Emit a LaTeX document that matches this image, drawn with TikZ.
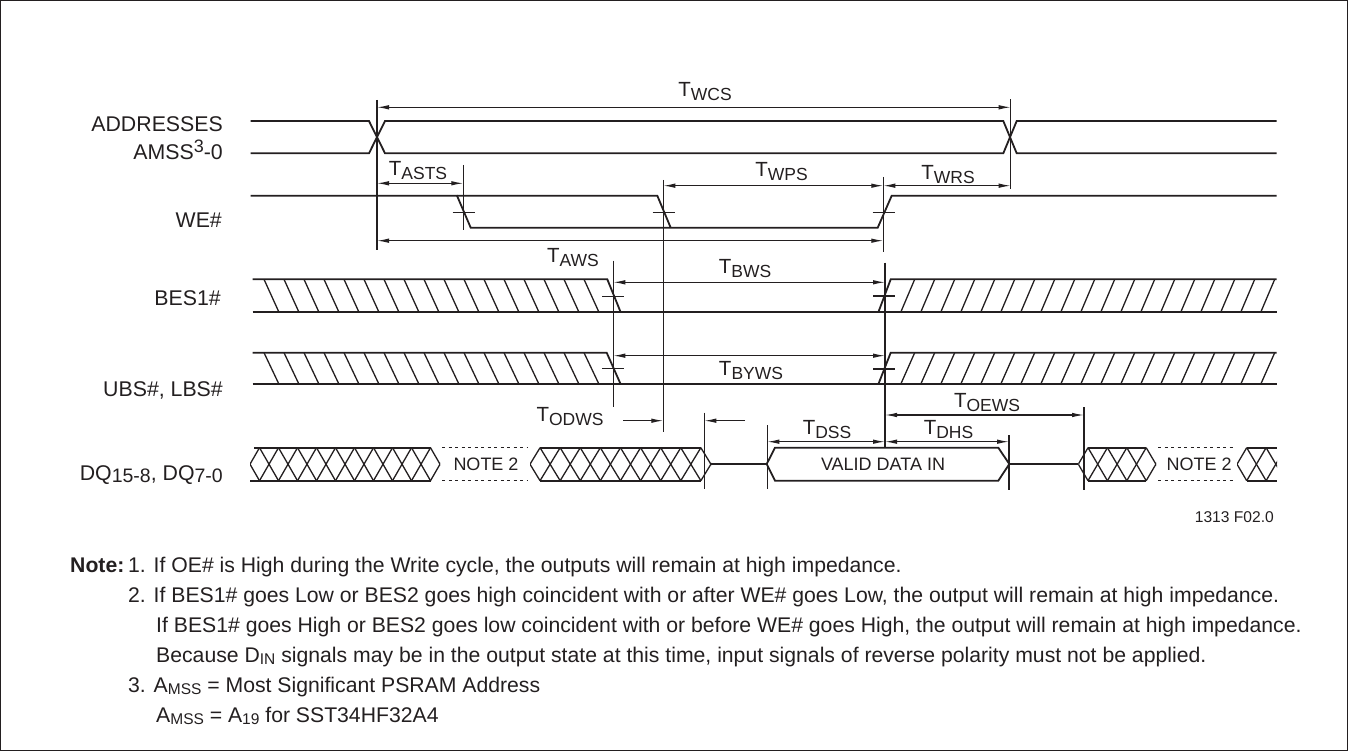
\documentclass[tikz,border=0pt]{standalone}
\usepackage{fontspec}
\setmainfont{Liberation Sans}
\usetikzlibrary{arrows.meta}
\definecolor{ink}{HTML}{231F20}
\newcommand\Tsub[1]{{\fontsize{20.5}{21}\selectfont T}\raisebox{-4pt}{\fontsize{17.5}{18}\selectfont #1}}
\newcommand\nsub[1]{\raisebox{-2.5pt}{\fontsize{15.5}{15}\selectfont #1}}
\tikzset{
 sig/.style={line width=1.8pt, draw=ink, line join=miter},
 refl/.style={line width=1.5pt, draw=ink},
 dim/.style={line width=1.1pt, draw=ink, {Latex[length=12pt,width=4.5pt]}-{Latex[length=12pt,width=4.5pt]}},
 dimr/.style={line width=1.1pt, draw=ink, -{Latex[length=12pt,width=4.5pt]}},
 hatch/.style={line width=1.3pt, draw=ink},
 tickm/.style={line width=1.5pt, draw=ink},
 dashb/.style={line width=1.3pt, draw=ink, dash pattern=on 3pt off 3.5pt},
 lbl/.style={font=\fontsize{21.3}{24}\selectfont, text=ink, inner sep=0pt, anchor=base east},
 tl/.style={text=ink, inner sep=0pt},
 notet/.style={font=\fontsize{21.2}{24}\selectfont, text=ink, inner sep=0pt, anchor=base west},
 boxt/.style={font=\fontsize{18}{20}\selectfont, text=ink, inner sep=0pt},
}
\begin{document}
\begin{tikzpicture}[x=1pt,y=-1pt]
\useasboundingbox (0,0) rectangle (1348,751);
\draw[line width=1pt,ink] (0.5,0.5) rectangle (1347.5,750.5);

% ---------- signal names ----------
\node[lbl] (laddr) at (223,132) {ADDRESSES};
\node[lbl] (lamss) at (223,160) {AMSS\raisebox{7pt}{\fontsize{18}{18}\selectfont 3}-0};
\node[lbl] (lwe) at (222,228) {WE\#};
\node[lbl] (lbes) at (221,305) {BES1\#};
\node[lbl] (lubs) at (223,396) {UBS\#, LBS\#};
\node[lbl] (ldq) at (223,480) {DQ\raisebox{-2.5pt}{\fontsize{19.5}{20}\selectfont 15-8}, DQ\raisebox{-2.5pt}{\fontsize{19.5}{20}\selectfont 7-0}};

% ---------- ADDRESSES ----------
\draw[sig] (250.7,121)--(369,121)--(385,153.3)--(1003.3,153.3)--(1016.7,121)--(1276.7,121);
\draw[sig] (250.7,153.3)--(369,153.3)--(385,121)--(1003.3,121)--(1016.7,153.3)--(1276.7,153.3);

% ---------- WE# ----------
\draw[sig] (250.7,195.7)--(457,195.7)--(470.7,227.7)--(877.7,227.7)--(891.7,195.7)--(1276.7,195.7);
\draw[sig] (457,195.7)--(657.3,195.7)--(670.7,227.7);
\draw[tickm] (452.7,212.7)--(475,212.7);
\draw[tickm] (652.7,212.7)--(675,212.7);
\draw[tickm] (872.7,212.7)--(895,212.7);

% ---------- BES1# ----------
\draw[sig] (252.7,279.3)--(607.3,279.3)--(620.7,312.3);
\draw[sig] (252.7,312.3)--(1276.7,312.3);
\draw[sig] (878.3,312.3)--(890.7,279.3)--(1276.7,279.3);
\foreach \k in {0,...,16} \draw[hatch] ({264+20*\k},279.3) -- ++(15,33);
\foreach \k in {0,...,18} \draw[hatch] ({900.7+20*\k},312.3) -- ++(14,-33);
\draw[tickm] (602,296.7)--(624,296.7);
\draw[tickm] (873,296)--(895,296);

% ---------- UBS#, LBS# ----------
\draw[sig] (252.7,352.7)--(606.7,352.7)--(620.7,384.3);
\draw[sig] (252.7,384.3)--(1276.7,384.3);
\draw[sig] (878.3,384.3)--(890.7,352.7)--(1276.7,352.7);
\foreach \k in {0,...,16} \draw[hatch] ({264+20*\k},352.7) -- ++(15,31.6);
\foreach \k in {0,...,18} \draw[hatch] ({900.7+20*\k},384.3) -- ++(14,-31.6);
\draw[tickm] (602,368.3)--(624,368.3);
\draw[tickm] (873,369)--(895,369);

% ---------- DQ ----------
\begin{scope}
\clip (250,440) rectangle (440,490);
\foreach \k in {0,...,10} {
 \draw[hatch] ({250+19*\k-9.5},447.7) -- ({250+19*\k+9.5},480.7);
 \draw[hatch] ({250+19*\k-9.5},480.7) -- ({250+19*\k+9.5},447.7);}
\end{scope}
\draw[sig] (254,447.7)--(430.5,447.7);
\draw[sig] (250,480.7)--(430.5,480.7);
\draw[dashb] (442,447.7)--(528,447.7);
\draw[dashb] (442,480.7)--(528,480.7);
\node[boxt] (note2a) at (486,464) {NOTE 2};
\begin{scope}
\clip (530,440) rectangle (711,490);
\foreach \k in {0,...,9} {
 \draw[hatch] ({530+20.1*\k-10.05},447.7) -- ({530+20.1*\k+10.05},480.7);
 \draw[hatch] ({530+20.1*\k-10.05},480.7) -- ({530+20.1*\k+10.05},447.7);}
\end{scope}
\draw[sig] (540,447.7)--(701,447.7);
\draw[sig] (540,480.7)--(701,480.7);
\draw[sig] (710.7,464)--(766.7,464);
\draw[sig] (766.7,464)--(775,447.7)--(998.3,447.7)--(1009.3,464)--(998.3,480.7)--(775,480.7)--cycle;
\node[boxt] (valid) at (883,464) {VALID DATA IN};
\draw[sig] (1009.3,464)--(1078.3,464);
\begin{scope}
\clip (1078.3,440) rectangle (1156,490);
\foreach \k in {0,...,4} {
 \draw[hatch] ({1078.3+19.4*\k-9.7},447.7) -- ({1078.3+19.4*\k+9.7},480.7);
 \draw[hatch] ({1078.3+19.4*\k-9.7},480.7) -- ({1078.3+19.4*\k+9.7},447.7);}
\end{scope}
\draw[sig] (1088,447.7)--(1146.3,447.7);
\draw[sig] (1088,480.7)--(1146.3,480.7);
\draw[dashb] (1158,447.7)--(1235,447.7);
\draw[dashb] (1158,480.7)--(1235,480.7);
\node[boxt] (note2b) at (1199,464) {NOTE 2};
\begin{scope}
\clip (1237,440) rectangle (1277,490);
\foreach \k in {0,...,2} {
 \draw[hatch] ({1237+19.4*\k-9.7},447.7) -- ({1237+19.4*\k+9.7},480.7);
 \draw[hatch] ({1237+19.4*\k-9.7},480.7) -- ({1237+19.4*\k+9.7},447.7);}
\end{scope}
\draw[sig] (1246.7,447.7)--(1277,447.7);
\draw[sig] (1246.7,480.7)--(1277,480.7);

% ---------- reference lines ----------
\coordinate (r1t) at (377,100);   \coordinate (r1b) at (377,250);
\coordinate (r2t) at (463.3,165); \coordinate (r2b) at (463.3,230);
\coordinate (r3t) at (663.3,180); \coordinate (r3b) at (663.3,431.7);
\coordinate (r4t) at (883.3,177); \coordinate (r4b) at (883.3,251.7);
\coordinate (r5t) at (1010.7,99.3); \coordinate (r5b) at (1010.7,189.3);
\coordinate (r6t) at (613.3,260.7); \coordinate (r6b) at (613.3,406.7);
\coordinate (r7t) at (885,262.7); \coordinate (r7b) at (885,446.7);
\coordinate (r8t) at (704.3,412.7); \coordinate (r8b) at (704.3,488.7);
\coordinate (r9t) at (767.3,425); \coordinate (r9b) at (767.3,488.7);
\coordinate (r10t) at (1009,435); \coordinate (r10b) at (1009,490);
\coordinate (r11t) at (1084,407); \coordinate (r11b) at (1084,490);
\foreach \i in {1,...,11} \draw[refl] (r\i t)--(r\i b);

% ---------- dimension arrows ----------
\coordinate (twcsA) at (377,107.3);  \coordinate (twcsB) at (1010.7,107.3);
\coordinate (tastsA) at (377,183.3); \coordinate (tastsB) at (463.3,183.3);
\coordinate (twpsA) at (663.3,185.7); \coordinate (twpsB) at (883.3,185.7);
\coordinate (twrsA) at (883.3,185.7); \coordinate (twrsB) at (1010.7,185.7);
\coordinate (tawsA) at (377,240.7); \coordinate (tawsB) at (883.3,240.7);
\coordinate (tbwsA) at (613.3,282.3); \coordinate (tbwsB) at (885,282.3);
\coordinate (tbywsA) at (613.3,355.7); \coordinate (tbywsB) at (885,355.7);
\coordinate (todwsA) at (623.3,420.7); \coordinate (todwsB) at (663.3,420.7);
\coordinate (tlA) at (745,420.7); \coordinate (tlB) at (704.3,420.7);
\coordinate (tdssA) at (767.3,441.7); \coordinate (tdssB) at (885,441.7);
\coordinate (tdhsA) at (885,441.7); \coordinate (tdhsB) at (1009,441.7);
\coordinate (toewsA) at (885,415); \coordinate (toewsB) at (1084,415);

\draw[dim] (twcsA)--(twcsB);
\draw[dim] (tastsA)--(tastsB);
\draw[dim] (twpsA)--(twpsB);
\draw[dim] (twrsA)--(twrsB);
\draw[dim] (tawsA)--(tawsB);
\draw[dim] (tbwsA)--(tbwsB);
\draw[dim] (tbywsA)--(tbywsB);
\draw[dimr] (todwsA)--(todwsB);
\draw[dimr] (tlA)--(tlB);
\draw[dim] (tdssA)--(tdssB);
\draw[dim] (tdhsA)--(tdhsB);
\draw[dim] (toewsA)--(toewsB);

% ---------- timing labels ----------
\node[tl] (ltwcs) at (705,92) {\Tsub{WCS}};
\node[tl] (ltasts) at (418,171) {\Tsub{ASTS}};
\node[tl] (ltwps) at (781.5,172) {\Tsub{WPS}};
\node[tl] (ltwrs) at (948,175) {\Tsub{WRS}};
\node[tl] (ltaws) at (573,258) {\Tsub{AWS}};
\node[tl] (ltbws) at (745,269) {\Tsub{BWS}};
\node[tl] (ltbyws) at (751,371) {\Tsub{BYWS}};
\node[tl] (ltodws) at (570,417) {\Tsub{ODWS}};
\node[tl] (ltdss) at (827,430) {\Tsub{DSS}};
\node[tl] (ltdhs) at (948.5,430) {\Tsub{DHS}};
\node[tl] (ltoews) at (987,403) {\Tsub{OEWS}};

\node[tl, font=\fontsize{15.6}{18}\selectfont, anchor=east] (fig) at (1274,517) {1313 F02.0};

% ---------- notes ----------
\node[notet] (nn) at (70,572) {\textbf{Note:}};
\node[notet] (n1) at (128,572) {1. If OE\# is High during the Write cycle, the outputs will remain at high impedance.};
\node[notet] (n2) at (128,602) {2. If BES1\# goes Low or BES2 goes high coincident with or after WE\# goes Low, the output will remain at high impedance.};
\node[notet] (n3) at (156,632) {If BES1\# goes High or BES2 goes low coincident with or before WE\# goes High, the output will remain at high impedance.};
\node[notet] (n4) at (156,662) {Because D\nsub{IN} signals may be in the output state at this time, input signals of reverse polarity must not be applied.};
\node[notet] (n5) at (128,692) {3. A\nsub{MSS} = Most Significant PSRAM Address};
\node[notet] (n6) at (156,722) {A\nsub{MSS} = A\nsub{19} for SST34HF32A4};
\end{tikzpicture}
\end{document}
